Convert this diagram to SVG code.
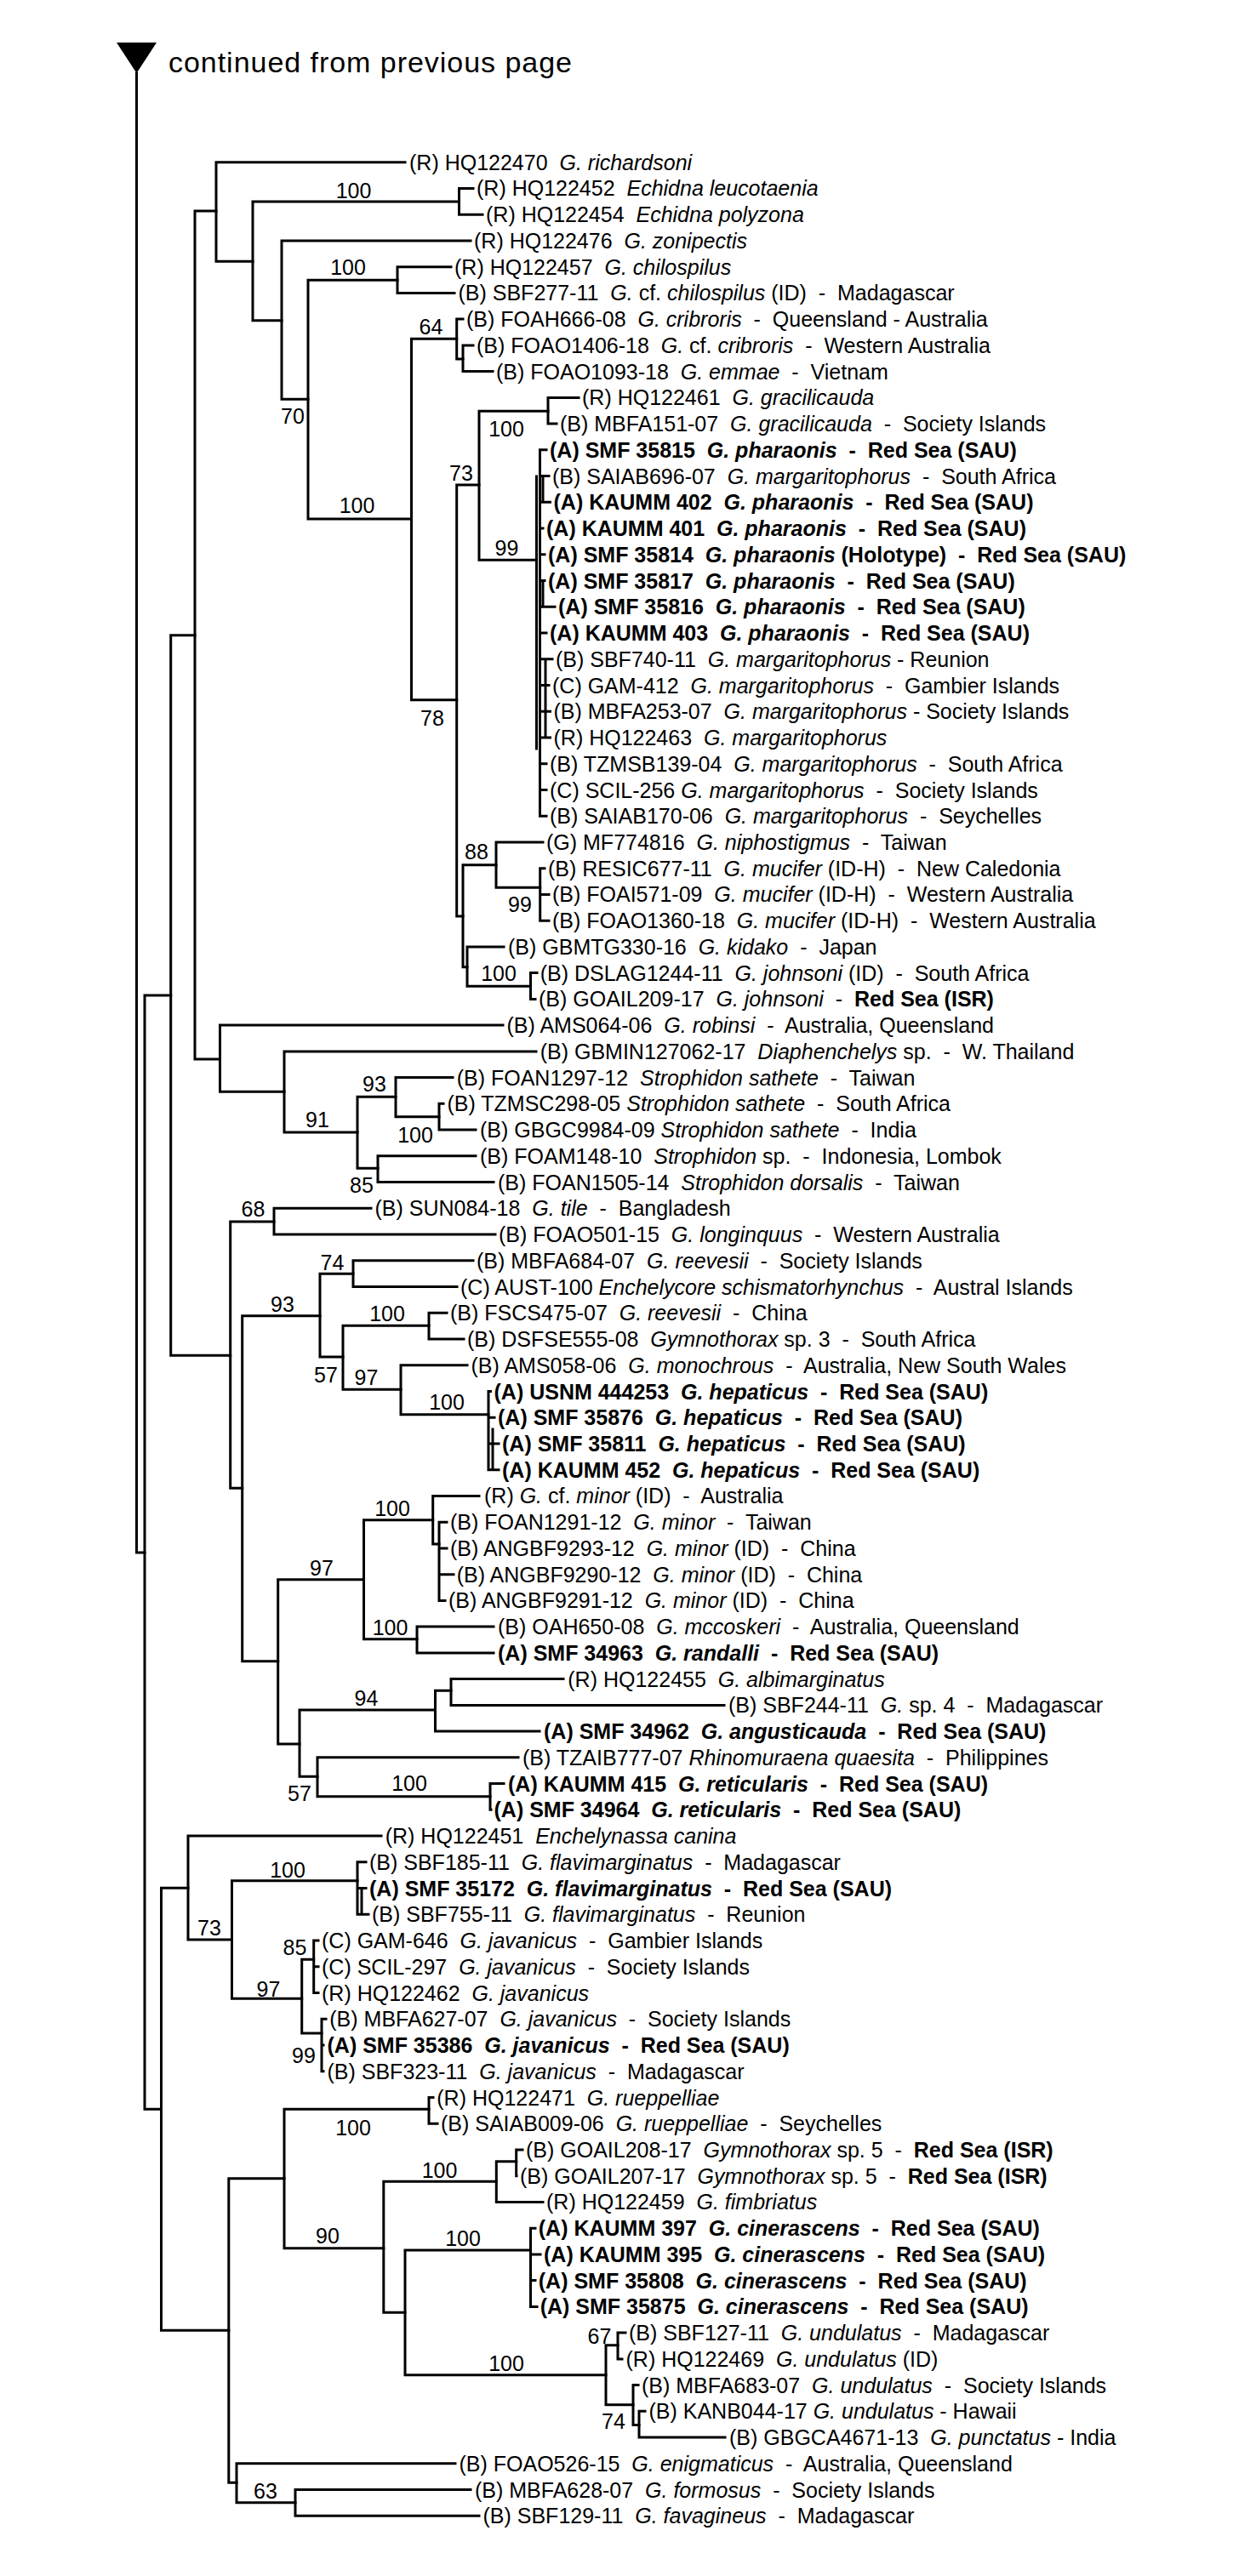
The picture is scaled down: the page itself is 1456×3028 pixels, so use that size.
<svg xmlns="http://www.w3.org/2000/svg" width="1456" height="3028" viewBox="0 0 1456 3028" xml:space="preserve">
<style>
text{font-family:"Liberation Sans",Arial,sans-serif;font-size:25px;fill:#000;white-space:pre}
.b{font-weight:bold}
.i{font-style:italic}
.bs{text-anchor:middle}
.br{fill:none;stroke:#000;stroke-width:3;stroke-linecap:square;stroke-linejoin:miter}
</style>
<rect x="0" y="0" width="1456" height="3028" fill="#fff"/>
<g id="header">
<polygon points="137,50 184,50 160.5,86" fill="#000"/>
<text x="198" y="85" style="font-size:34px" textLength="474" lengthAdjust="spacing">continued from previous page</text>
</g>
<g id="connectors" class="br">
<path d="M160.5 86 V1825 H170"/>
<path d="M200.7 1170 H170 V2479.3 H189.5"/>
<path d="M229 746.7 H200.7 V1593.3 H270.7"/>
<path d="M254 248 H229 V1245 H258.5"/>
<path d="M476 190.7 H254 V307.3 H297"/>
<path d="M539.5 237 H297 V376.7 H331"/>
<path d="M556 221.4 H539.5 V252.2 H567"/>
<path d="M553 282.9 H331 V469.3 H362"/>
<path d="M467 329.3 H362 V610 H483.5"/>
<path d="M530 313.7 H467 V344.4 H534"/>
<path d="M536.7 398.3 H483.5 V822.7 H536.7"/>
<path d="M544 375.1 H536.7 V422 H544"/>
<path d="M556 405.9 H544 V436.6 H579"/>
<path d="M563 570 H536.7 V1077 H544"/>
<path d="M644 483.3 H563 V658.3 H630.5"/>
<path d="M680 467.4 H644 V498.1 H654"/>
<path d="M630.5 560 V880 M634.5 528.8 V959.2 M634.5 528.8 H642 M634.5 559.6 H645 M634.5 590.3 H646.5 M634.5 621.1 H638 M634.5 651.8 H640 M634.5 682.5 H640 M634.5 713.3 H652 M634.5 744 H642 M634.5 774.8 H649 M634.5 805.5 H645 M634.5 836.2 H646.5 M634.5 867 H646.5 M634.5 897.7 H642 M634.5 928.5 H642 M634.5 959.2 H642 M638 559.6 V590.3 M638 682.5 V713.3 M641 774.8 V867"/>
<path d="M583 1016.7 H544 V1136.7 H549"/>
<path d="M638 989.9 H583 V1043.3 H634.7"/>
<path d="M640 1020.7 H634.7 V1082.2 H645 M634.7 1051.4 H645"/>
<path d="M592 1112.9 H549 V1159.3 H623.5"/>
<path d="M631 1143.6 H623.5 V1174.4 H629"/>
<path d="M591 1205.1 H258.5 V1283.3 H334"/>
<path d="M630 1235.9 H334 V1331 H420"/>
<path d="M465 1289.3 H420 V1373.3 H444"/>
<path d="M532 1266.6 H465 V1312.7 H516"/>
<path d="M521 1297.3 H516 V1328.1 H559"/>
<path d="M559 1358.8 H444 V1389.6 H580"/>
<path d="M322 1436 H270.7 V1749.3 H284.7"/>
<path d="M436 1420.3 H322 V1451 H582"/>
<path d="M376 1546.7 H284.7 V1952.7 H326.7"/>
<path d="M415 1497.3 H376 V1595 H403"/>
<path d="M556 1481.8 H415 V1512.5 H537"/>
<path d="M504 1558.3 H403 V1633.3 H471"/>
<path d="M525 1543.3 H504 V1574 H545"/>
<path d="M549 1604.7 H471 V1662.7 H574"/>
<path d="M576.5 1635.5 H574 V1727.7 H586 M574 1666.2 H581 M574 1697 H586 M579 1680 V1727.7"/>
<path d="M427.5 1856.7 H326.7 V2050 H352"/>
<path d="M508.7 1786.7 H427.5 V1926.7 H490"/>
<path d="M563 1758.4 H508.7 V1815 H516"/>
<path d="M516 1789.2 V1881.4 M516 1789.2 H525 M516 1819.9 H525 M516 1850.7 H533 M516 1881.4 H523"/>
<path d="M580 1912.1 H490 V1942.9 H580"/>
<path d="M511.5 2010 H352 V2088.3 H373"/>
<path d="M530 1987.3 H511.5 V2035.1 H634"/>
<path d="M662 1973.6 H530 V2004.4 H851"/>
<path d="M609 2065.8 H373 V2111.7 H576"/>
<path d="M592 2096.6 H576 V2127.3 H577"/>
<path d="M221 2219.3 H189.5 V2739.3 H268.8"/>
<path d="M448 2158.1 H221 V2280 H272.5"/>
<path d="M420 2210.7 H272.5 V2349.3 H354.7"/>
<path d="M430 2188.8 H420 V2250.3 H433 M420 2219.5 H430 M425 2219.5 V2250.3"/>
<path d="M368.7 2303.3 H354.7 V2390 H378"/>
<path d="M374 2281 H368.7 V2342.5 H374 M368.7 2311.8 H374"/>
<path d="M383 2373.2 H378 V2434.7 H380 M378 2404 H380"/>
<path d="M504 2479.3 H334 V2642.7 H450.8"/>
<path d="M509 2465.5 H504 V2496.2 H514"/>
<path d="M334 2560.7 H268.8 V2918.3 H278"/>
<path d="M583.3 2564.3 H450.8 V2718.3 H476"/>
<path d="M606.7 2540.7 H583.3 V2588.4 H638"/>
<path d="M614 2526.9 H606.7 V2557.7 H607"/>
<path d="M623.5 2645 H476 V2791.7 H712"/>
<path d="M629 2619.2 H623.5 V2711.4 H631 M623.5 2649.9 H635 M623.5 2680.6 H629"/>
<path d="M726 2756.7 H712 V2826.7 H744"/>
<path d="M735 2742.1 H726 V2772.9 H731"/>
<path d="M750 2803.6 H744 V2850.5 H751"/>
<path d="M758 2834.3 H751 V2865.1 H852"/>
<path d="M535 2895.8 H278 V2941.7 H347"/>
<path d="M553 2926.6 H347 V2957.3 H563"/>
</g>
<g id="support">
<text class="bs" x="415.5" y="233">100</text>
<text class="bs" x="409" y="323">100</text>
<text class="bs" x="506.5" y="393">64</text>
<text class="bs" x="344" y="498">70</text>
<text class="bs" x="595" y="513">100</text>
<text class="bs" x="542" y="565">73</text>
<text class="bs" x="419.5" y="603">100</text>
<text class="bs" x="595.5" y="653">99</text>
<text class="bs" x="508" y="853">78</text>
<text class="bs" x="560" y="1010">88</text>
<text class="bs" x="611" y="1072">99</text>
<text class="bs" x="586" y="1153">100</text>
<text class="bs" x="440" y="1283">93</text>
<text class="bs" x="373" y="1325">91</text>
<text class="bs" x="488" y="1343">100</text>
<text class="bs" x="425" y="1402">85</text>
<text class="bs" x="297.5" y="1430">68</text>
<text class="bs" x="390.5" y="1493">74</text>
<text class="bs" x="332" y="1542">93</text>
<text class="bs" x="455" y="1553">100</text>
<text class="bs" x="383" y="1625">57</text>
<text class="bs" x="430.5" y="1628">97</text>
<text class="bs" x="525" y="1657">100</text>
<text class="bs" x="461" y="1782">100</text>
<text class="bs" x="378" y="1852">97</text>
<text class="bs" x="458.5" y="1922">100</text>
<text class="bs" x="430.5" y="2005">94</text>
<text class="bs" x="352" y="2117">57</text>
<text class="bs" x="481" y="2105">100</text>
<text class="bs" x="338" y="2207">100</text>
<text class="bs" x="246" y="2275">73</text>
<text class="bs" x="346.5" y="2298">85</text>
<text class="bs" x="315.5" y="2347">97</text>
<text class="bs" x="357" y="2425">99</text>
<text class="bs" x="415" y="2510">100</text>
<text class="bs" x="516.5" y="2560">100</text>
<text class="bs" x="385" y="2637">90</text>
<text class="bs" x="544" y="2640">100</text>
<text class="bs" x="704.5" y="2755">67</text>
<text class="bs" x="595" y="2787">100</text>
<text class="bs" x="721" y="2855">74</text>
<text class="bs" x="312" y="2937">63</text>
</g>
<g id="n01"><text x="481" y="199.7">(R) HQ122470&#160; <tspan class="i">G. richardsoni</tspan></text></g>
<g id="n02"><text x="560" y="230.4">(R) HQ122452&#160; <tspan class="i">Echidna leucotaenia</tspan></text></g>
<g id="n03"><text x="571" y="261.2">(R) HQ122454&#160; <tspan class="i">Echidna polyzona</tspan></text></g>
<g id="n04"><text x="557" y="291.9">(R) HQ122476&#160; <tspan class="i">G. zonipectis</tspan></text></g>
<g id="n05"><text x="534" y="322.7">(R) HQ122457&#160; <tspan class="i">G. chilospilus</tspan></text></g>
<g id="n06"><text x="538.5" y="353.4">(B) SBF277-11&#160; <tspan class="i">G.</tspan> cf. <tspan class="i">chilospilus</tspan> (ID)&#160; -&#160; Madagascar</text></g>
<g id="n07"><text x="548" y="384.1">(B) FOAH666-08&#160; <tspan class="i">G. cribroris</tspan>&#160; -&#160; Queensland - Australia</text></g>
<g id="n08"><text x="560" y="414.9">(B) FOAO1406-18&#160; <tspan class="i">G.</tspan> cf. <tspan class="i">cribroris</tspan>&#160; -&#160; Western Australia</text></g>
<g id="n09"><text x="583" y="445.6">(B) FOAO1093-18&#160; <tspan class="i">G. emmae</tspan>&#160; -&#160; Vietnam</text></g>
<g id="n10"><text x="684" y="476.4">(R) HQ122461&#160; <tspan class="i">G. gracilicauda</tspan></text></g>
<g id="n11"><text x="658" y="507.1">(B) MBFA151-07&#160; <tspan class="i">G. gracilicauda</tspan>&#160; -&#160; Society Islands</text></g>
<g id="n12"><text class="b" x="646" y="537.8">(A) SMF 35815&#160; <tspan class="i">G. pharaonis</tspan>&#160; -&#160; Red Sea (SAU)</text></g>
<g id="n13"><text x="649" y="568.6">(B) SAIAB696-07&#160; <tspan class="i">G. margaritophorus</tspan>&#160; -&#160; South Africa</text></g>
<g id="n14"><text class="b" x="650.5" y="599.3">(A) KAUMM 402&#160; <tspan class="i">G. pharaonis</tspan>&#160; -&#160; Red Sea (SAU)</text></g>
<g id="n15"><text class="b" x="642" y="630.1">(A) KAUMM 401&#160; <tspan class="i">G. pharaonis</tspan>&#160; -&#160; Red Sea (SAU)</text></g>
<g id="n16"><text class="b" x="644" y="660.8">(A) SMF 35814&#160; <tspan class="i">G. pharaonis</tspan> (Holotype)&#160; -&#160; Red Sea (SAU)</text></g>
<g id="n17"><text class="b" x="644" y="691.5">(A) SMF 35817&#160; <tspan class="i">G. pharaonis</tspan>&#160; -&#160; Red Sea (SAU)</text></g>
<g id="n18"><text class="b" x="656" y="722.3">(A) SMF 35816&#160; <tspan class="i">G. pharaonis</tspan>&#160; -&#160; Red Sea (SAU)</text></g>
<g id="n19"><text class="b" x="646" y="753">(A) KAUMM 403&#160; <tspan class="i">G. pharaonis</tspan>&#160; -&#160; Red Sea (SAU)</text></g>
<g id="n20"><text x="653" y="783.8">(B) SBF740-11&#160; <tspan class="i">G. margaritophorus</tspan> - Reunion</text></g>
<g id="n21"><text x="649" y="814.5">(C) GAM-412&#160; <tspan class="i">G. margaritophorus</tspan>&#160; -&#160; Gambier Islands</text></g>
<g id="n22"><text x="650.5" y="845.2">(B) MBFA253-07&#160; <tspan class="i">G. margaritophorus</tspan> - Society Islands</text></g>
<g id="n23"><text x="650.5" y="876">(R) HQ122463&#160; <tspan class="i">G. margaritophorus</tspan></text></g>
<g id="n24"><text x="646" y="906.7">(B) TZMSB139-04&#160; <tspan class="i">G. margaritophorus</tspan>&#160; -&#160; South Africa</text></g>
<g id="n25"><text x="646" y="937.5">(C) SCIL-256 <tspan class="i">G. margaritophorus</tspan>&#160; -&#160; Society Islands</text></g>
<g id="n26"><text x="646" y="968.2">(B) SAIAB170-06&#160; <tspan class="i">G. margaritophorus</tspan>&#160; -&#160; Seychelles</text></g>
<g id="n27"><text x="642" y="998.9">(G) MF774816&#160; <tspan class="i">G. niphostigmus</tspan>&#160; -&#160; Taiwan</text></g>
<g id="n28"><text x="644" y="1029.7">(B) RESIC677-11&#160; <tspan class="i">G. mucifer</tspan> (ID-H)&#160; -&#160; New Caledonia</text></g>
<g id="n29"><text x="649" y="1060.4">(B) FOAI571-09&#160; <tspan class="i">G. mucifer</tspan> (ID-H)&#160; -&#160; Western Australia</text></g>
<g id="n30"><text x="649" y="1091.2">(B) FOAO1360-18&#160; <tspan class="i">G. mucifer</tspan> (ID-H)&#160; -&#160; Western Australia</text></g>
<g id="n31"><text x="597" y="1121.9">(B) GBMTG330-16&#160; <tspan class="i">G. kidako</tspan>&#160; -&#160; Japan</text></g>
<g id="n32"><text x="634.7" y="1152.6">(B) DSLAG1244-11&#160; <tspan class="i">G. johnsoni</tspan> (ID)&#160; -&#160; South Africa</text></g>
<g id="n33"><text x="633" y="1183.4">(B) GOAIL209-17&#160; <tspan class="i">G. johnsoni</tspan>&#160; -&#160; <tspan class="b">Red Sea (ISR)</tspan></text></g>
<g id="n34"><text x="595.5" y="1214.1">(B) AMS064-06&#160; <tspan class="i">G. robinsi</tspan>&#160; -&#160; Australia, Queensland</text></g>
<g id="n35"><text x="634.7" y="1244.9">(B) GBMIN127062-17&#160; <tspan class="i">Diaphenchelys</tspan> sp.&#160; -&#160; W. Thailand</text></g>
<g id="n36"><text x="536.7" y="1275.6">(B) FOAN1297-12&#160; <tspan class="i">Strophidon sathete</tspan>&#160; -&#160; Taiwan</text></g>
<g id="n37"><text x="525.5" y="1306.3">(B) TZMSC298-05 <tspan class="i">Strophidon sathete</tspan>&#160; -&#160; South Africa</text></g>
<g id="n38"><text x="564" y="1337.1">(B) GBGC9984-09 <tspan class="i">Strophidon sathete</tspan>&#160; -&#160; India</text></g>
<g id="n39"><text x="564" y="1367.8">(B) FOAM148-10&#160; <tspan class="i">Strophidon</tspan> sp.&#160; -&#160; Indonesia, Lombok</text></g>
<g id="n40"><text x="585" y="1398.6">(B) FOAN1505-14&#160; <tspan class="i">Strophidon dorsalis</tspan>&#160; -&#160; Taiwan</text></g>
<g id="n41"><text x="440.5" y="1429.3">(B) SUN084-18&#160; <tspan class="i">G. tile</tspan>&#160; -&#160; Bangladesh</text></g>
<g id="n42"><text x="586" y="1460">(B) FOAO501-15&#160; <tspan class="i">G. longinquus</tspan>&#160; -&#160; Western Australia</text></g>
<g id="n43"><text x="560" y="1490.8">(B) MBFA684-07&#160; <tspan class="i">G. reevesii</tspan>&#160; -&#160; Society Islands</text></g>
<g id="n44"><text x="541" y="1521.5">(C) AUST-100 <tspan class="i">Enchelycore schismatorhynchus</tspan>&#160; -&#160; Austral Islands</text></g>
<g id="n45"><text x="529" y="1552.3">(B) FSCS475-07&#160; <tspan class="i">G. reevesii</tspan>&#160; -&#160; China</text></g>
<g id="n46"><text x="549" y="1583">(B) DSFSE555-08&#160; <tspan class="i">Gymnothorax</tspan> sp. 3&#160; -&#160; South Africa</text></g>
<g id="n47"><text x="553.5" y="1613.7">(B) AMS058-06&#160; <tspan class="i">G. monochrous</tspan>&#160; -&#160; Australia, New South Wales</text></g>
<g id="n48"><text class="b" x="580.5" y="1644.5">(A) USNM 444253&#160; <tspan class="i">G. hepaticus</tspan>&#160; -&#160; Red Sea (SAU)</text></g>
<g id="n49"><text class="b" x="585" y="1675.2">(A) SMF 35876&#160; <tspan class="i">G. hepaticus</tspan>&#160; -&#160; Red Sea (SAU)</text></g>
<g id="n50"><text class="b" x="590" y="1706">(A) SMF 35811&#160; <tspan class="i">G. hepaticus</tspan>&#160; -&#160; Red Sea (SAU)</text></g>
<g id="n51"><text class="b" x="590" y="1736.7">(A) KAUMM 452&#160; <tspan class="i">G. hepaticus</tspan>&#160; -&#160; Red Sea (SAU)</text></g>
<g id="n52"><text x="569" y="1767.4">(R) <tspan class="i">G.</tspan> cf. <tspan class="i">minor</tspan> (ID)&#160; -&#160; Australia</text></g>
<g id="n53"><text x="529" y="1798.2">(B) FOAN1291-12&#160; <tspan class="i">G. minor</tspan>&#160; -&#160; Taiwan</text></g>
<g id="n54"><text x="529" y="1828.9">(B) ANGBF9293-12&#160; <tspan class="i">G. minor</tspan> (ID)&#160; -&#160; China</text></g>
<g id="n55"><text x="536.7" y="1859.7">(B) ANGBF9290-12&#160; <tspan class="i">G. minor</tspan> (ID)&#160; -&#160; China</text></g>
<g id="n56"><text x="527" y="1890.4">(B) ANGBF9291-12&#160; <tspan class="i">G. minor</tspan> (ID)&#160; -&#160; China</text></g>
<g id="n57"><text x="585" y="1921.1">(B) OAH650-08&#160; <tspan class="i">G. mccoskeri</tspan>&#160; -&#160; Australia, Queensland</text></g>
<g id="n58"><text class="b" x="585" y="1951.9">(A) SMF 34963&#160; <tspan class="i">G. randalli</tspan>&#160; -&#160; Red Sea (SAU)</text></g>
<g id="n59"><text x="667.3" y="1982.6">(R) HQ122455&#160; <tspan class="i">G. albimarginatus</tspan></text></g>
<g id="n60"><text x="856" y="2013.4">(B) SBF244-11&#160; <tspan class="i">G.</tspan> sp. 4&#160; -&#160; Madagascar</text></g>
<g id="n61"><text class="b" x="639" y="2044.1">(A) SMF 34962&#160; <tspan class="i">G. angusticauda</tspan>&#160; -&#160; Red Sea (SAU)</text></g>
<g id="n62"><text x="614" y="2074.8">(B) TZAIB777-07 <tspan class="i">Rhinomuraena quaesita</tspan>&#160; -&#160; Philippines</text></g>
<g id="n63"><text class="b" x="597" y="2105.6">(A) KAUMM 415&#160; <tspan class="i">G. reticularis</tspan>&#160; -&#160; Red Sea (SAU)</text></g>
<g id="n64"><text class="b" x="580.5" y="2136.3">(A) SMF 34964&#160; <tspan class="i">G. reticularis</tspan>&#160; -&#160; Red Sea (SAU)</text></g>
<g id="n65"><text x="452.7" y="2167.1">(R) HQ122451&#160; <tspan class="i">Enchelynassa canina</tspan></text></g>
<g id="n66"><text x="434" y="2197.8">(B) SBF185-11&#160; <tspan class="i">G. flavimarginatus</tspan>&#160; -&#160; Madagascar</text></g>
<g id="n67"><text class="b" x="434" y="2228.5">(A) SMF 35172&#160; <tspan class="i">G. flavimarginatus</tspan>&#160; -&#160; Red Sea (SAU)</text></g>
<g id="n68"><text x="437" y="2259.3">(B) SBF755-11&#160; <tspan class="i">G. flavimarginatus</tspan>&#160; -&#160; Reunion</text></g>
<g id="n69"><text x="378" y="2290">(C) GAM-646&#160; <tspan class="i">G. javanicus</tspan>&#160; -&#160; Gambier Islands</text></g>
<g id="n70"><text x="378" y="2320.8">(C) SCIL-297&#160; <tspan class="i">G. javanicus</tspan>&#160; -&#160; Society Islands</text></g>
<g id="n71"><text x="378" y="2351.5">(R) HQ122462&#160; <tspan class="i">G. javanicus</tspan></text></g>
<g id="n72"><text x="387.3" y="2382.2">(B) MBFA627-07&#160; <tspan class="i">G. javanicus</tspan>&#160; -&#160; Society Islands</text></g>
<g id="n73"><text class="b" x="384.5" y="2413">(A) SMF 35386&#160; <tspan class="i">G. javanicus</tspan>&#160; -&#160; Red Sea (SAU)</text></g>
<g id="n74"><text x="384.5" y="2443.7">(B) SBF323-11&#160; <tspan class="i">G. javanicus</tspan>&#160; -&#160; Madagascar</text></g>
<g id="n75"><text x="513.3" y="2474.5">(R) HQ122471&#160; <tspan class="i">G. rueppelliae</tspan></text></g>
<g id="n76"><text x="518" y="2505.2">(B) SAIAB009-06&#160; <tspan class="i">G. rueppelliae</tspan>&#160; -&#160; Seychelles</text></g>
<g id="n77"><text x="618" y="2535.9">(B) GOAIL208-17&#160; <tspan class="i">Gymnothorax</tspan> sp. 5&#160; -&#160; <tspan class="b">Red Sea (ISR)</tspan></text></g>
<g id="n78"><text x="611" y="2566.7">(B) GOAIL207-17&#160; <tspan class="i">Gymnothorax</tspan> sp. 5&#160; -&#160; <tspan class="b">Red Sea (ISR)</tspan></text></g>
<g id="n79"><text x="642" y="2597.4">(R) HQ122459&#160; <tspan class="i">G. fimbriatus</tspan></text></g>
<g id="n80"><text class="b" x="632.8" y="2628.2">(A) KAUMM 397&#160; <tspan class="i">G. cinerascens</tspan>&#160; -&#160; Red Sea (SAU)</text></g>
<g id="n81"><text class="b" x="639" y="2658.9">(A) KAUMM 395&#160; <tspan class="i">G. cinerascens</tspan>&#160; -&#160; Red Sea (SAU)</text></g>
<g id="n82"><text class="b" x="632.8" y="2689.6">(A) SMF 35808&#160; <tspan class="i">G. cinerascens</tspan>&#160; -&#160; Red Sea (SAU)</text></g>
<g id="n83"><text class="b" x="634.7" y="2720.4">(A) SMF 35875&#160; <tspan class="i">G. cinerascens</tspan>&#160; -&#160; Red Sea (SAU)</text></g>
<g id="n84"><text x="739" y="2751.1">(B) SBF127-11&#160; <tspan class="i">G. undulatus</tspan>&#160; -&#160; Madagascar</text></g>
<g id="n85"><text x="735.5" y="2781.9">(R) HQ122469&#160; <tspan class="i">G. undulatus</tspan> (ID)</text></g>
<g id="n86"><text x="754" y="2812.6">(B) MBFA683-07&#160; <tspan class="i">G. undulatus</tspan>&#160; -&#160; Society Islands</text></g>
<g id="n87"><text x="762.5" y="2843.3">(B) KANB044-17 <tspan class="i">G. undulatus</tspan> - Hawaii</text></g>
<g id="n88"><text x="857" y="2874.1">(B) GBGCA4671-13&#160; <tspan class="i">G. punctatus</tspan> - India</text></g>
<g id="n89"><text x="539.5" y="2904.8">(B) FOAO526-15&#160; <tspan class="i">G. enigmaticus</tspan>&#160; -&#160; Australia, Queensland</text></g>
<g id="n90"><text x="558" y="2935.6">(B) MBFA628-07&#160; <tspan class="i">G. formosus</tspan>&#160; -&#160; Society Islands</text></g>
<g id="n91"><text x="567.5" y="2966.3">(B) SBF129-11&#160; <tspan class="i">G. favagineus</tspan>&#160; -&#160; Madagascar</text></g>
</svg>
